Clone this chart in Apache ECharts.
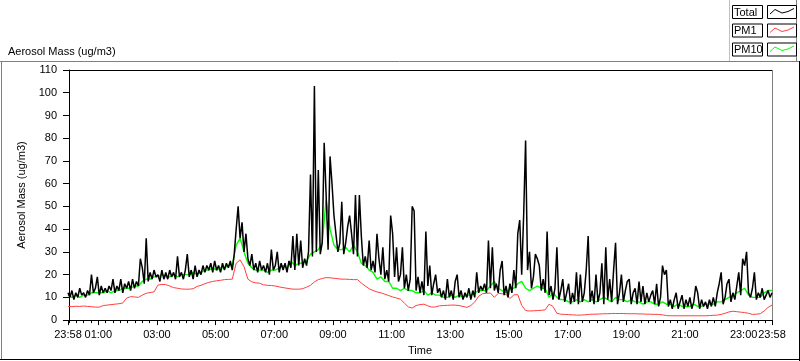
<!DOCTYPE html>
<html><head><meta charset="utf-8">
<script src="https://cdn.jsdelivr.net/npm/echarts@6/dist/echarts.min.js"></script>
<style>html,body{margin:0;padding:0;background:#fff}#c{width:800px;height:361px}</style>
</head><body><div id="c"></div>
<script>
// ---- data ----
const startMinute = -2;          // 23:58 of previous day
const endMinute = 1438;          // 23:58
const totalStepMin = 4;          // Total sampled every 4 min
const pmStepMin = 8;             // PM1 / PM10 sampled every 8 min
const seriesNames = ['Total', 'PM1', 'PM10'];
const xTickMinutes = [-2, 60, 180, 300, 420, 540, 660, 780, 900, 1020, 1140, 1260, 1380, 1438];
const xTickLabels = ['23:58','01:00','03:00','05:00','07:00','09:00','11:00','13:00','15:00','17:00','19:00','21:00','23:00','23:58'];
const yMin = 0, yMax = 110, yStep = 10;

const totalValues = [
12,10,13,9,12,10,14,11,12,10,
13,11,20,12,14,19,11,15,12,14,
12,15,13,18,12,15,13,18,12,16,
14,17,13,18,14,17,15,27,23,16,
36,17,21,18,22,19,20,17,22,18,
21,18,22,19,21,18,28,19,21,18,
22,29,19,22,18,24,19,22,20,24,
21,24,22,25,21,26,22,24,21,25,
22,25,23,26,22,29,40,50,36,43,
30,38,27,24,29,22,25,21,26,22,
24,21,25,20,31,22,24,30,21,25,
22,25,21,26,23,37,22,38,24,35,
23,27,24,30,64,28,103,30,66,29,
34,78,55,31,72,60,46,38,30,34,
52,29,34,41,46,38,29,55,28,55,
37,24,28,23,35,22,26,21,38,27,
20,32,18,22,17,46,38,19,32,17,
20,32,14,20,13,18,50,48,13,19,
12,17,11,39,15,24,11,16,20,12,
14,10,13,9,18,10,13,9,17,20,
10,13,9,12,10,14,9,13,10,21,
12,15,13,16,12,35,14,32,13,16,
12,22,26,11,15,10,16,12,22,14,
38,44,20,46,79,22,30,14,19,29,
27,24,13,18,12,39,11,15,9,14,
32,9,13,18,8,12,16,7,12,8,
21,7,20,8,12,22,37,8,13,7,
20,8,12,25,7,32,9,18,8,22,
34,7,12,20,8,13,17,18,7,12,
14,7,17,8,15,7,12,8,11,13,
7,16,6,10,24,20,22,6,9,5,
9,12,5,8,11,5,9,6,10,5,
8,15,12,5,9,6,8,5,9,6,
10,6,12,16,21,7,10,16,18,8,
12,9,15,21,11,27,24,30,12,10,
14,21,9,12,10,14,9,11,13,10,
12
];

const pm10Values = [
11,10,11,10,11,11,12,12,12,12,
13,12,13,13,14,14,14,15,15,17,
18,18,19,19,20,19,19,20,19,20,
20,20,21,20,21,22,22,23,22,23,
23,24,24,33,36,30,25,23,22,22,
22,21,22,22,23,24,23,26,24,25,
25,26,29,30,31,34,53,40,33,31,
31,32,30,33,30,25,24,22,21,18,
19,17,17,14,14,13,14,13,13,12,
12,13,11,12,11,11,10,10,11,10,
11,10,11,11,12,13,13,13,15,17,
14,13,12,14,14,16,17,14,13,14,
15,14,14,10,12,10,9,9,8,8,
9,8,9,8,9,8,9,10,9,8,
10,9,9,8,9,8,8,7,8,8,
7,7,8,7,7,6,7,6,6,6,
7,6,6,7,7,7,8,8,9,10,
11,12,13,14,11,10,10,10,12,13,
13
];

const pm1Values = [
6.0,5.9,6.1,6.0,6.2,6.0,5.9,5.7,5.7,6.4,
6.6,6.8,7.0,7.2,7.5,9.7,10.3,10.2,10.0,11.0,
11.8,12.1,12.4,15.4,15.7,15.6,15.0,14.3,14.0,13.7,
13.6,13.6,13.8,14.8,15.3,16.0,16.6,17.0,17.3,17.5,
17.8,17.9,18.0,25.0,26.5,23.5,18.0,16.8,16.4,16.2,
15.5,15.3,15.2,15.0,14.6,14.3,14.0,13.7,13.6,13.6,
13.8,14.5,15.3,16.8,17.8,18.3,18.7,18.6,18.4,18.2,
18.0,18.0,17.9,17.8,17.8,16.3,15.0,13.8,13.0,12.4,
12.0,11.4,10.8,10.2,9.7,9.2,7.5,5.8,5.3,6.4,
6.8,7.0,6.3,5.7,5.8,6.3,6.4,6.5,6.6,6.6,
6.4,6.0,5.6,6.4,8.0,10.5,11.6,11.8,11.9,10.0,
11.8,11.6,11.2,9.5,11.1,11.2,6.5,4.2,4.0,4.1,
4.2,4.3,4.5,7.0,6.0,3.0,2.6,2.5,2.4,2.3,
2.2,2.2,2.3,2.5,2.6,2.6,2.7,2.8,2.8,2.9,
2.9,2.9,2.9,2.8,2.8,2.8,2.7,2.7,2.6,2.6,
2.5,2.5,2.3,2.0,1.9,1.9,1.9,1.9,1.9,1.9,
1.9,1.9,1.9,1.9,2.0,2.1,2.2,2.5,3.0,3.6,
3.9,3.7,3.5,3.3,3.0,2.5,2.6,2.8,4.0,5.6,
6.6
];

// ---- build ----
const toPairs = (vals, step) => vals.map((v, i) => [startMinute + i * step, v]);
const minorTicks = [startMinute];
for (let m = 0; m < endMinute; m += 15) minorTicks.push(m);
minorTicks.push(endMinute);

const FONT = 'Liberation Sans';
const txt = { color: '#000', fontFamily: FONT, fontSize: 11 };

const legendColors = ['#000000', '#ff3f3f', '#00ff00'];
const legendTops = [5, 23.5, 42.5];
const legendGraphics = [];
seriesNames.forEach((name, k) => {
  const t = legendTops[k];
  legendGraphics.push(
    { type: 'rect', shape: { x: 732.5, y: t + 0.5, width: 30, height: 13 }, style: { fill: '#fff', stroke: '#000', lineWidth: 1 } },
    { type: 'text', x: 734, y: t + 7.5, style: { text: name, fill: '#000', font: '11px ' + FONT, textVerticalAlign: 'middle', verticalAlign: 'middle' } },
    { type: 'rect', shape: { x: 767.5, y: t + 0.5, width: 29, height: 13 }, style: { fill: '#fff', stroke: '#000', lineWidth: 1 } },
    { type: 'polyline', shape: { points: [[770, t + 9], [775, t + 4.5], [782, t + 8], [788, t + 6.5], [794, t + 3.5]] }, style: { stroke: legendColors[k], lineWidth: 1, fill: null } }
  );
});

const frame = [
  { type: 'line', shape: { x1: 0, y1: 61.5, x2: 799, y2: 61.5 }, style: { stroke: '#808080', lineWidth: 1 } },
  { type: 'line', shape: { x1: 1.5, y1: 61, x2: 1.5, y2: 360 }, style: { stroke: '#808080', lineWidth: 1 } },
  { type: 'line', shape: { x1: 729.5, y1: 0, x2: 729.5, y2: 61 }, style: { stroke: '#c0c0c0', lineWidth: 1 } },
  { type: 'line', shape: { x1: 796.5, y1: 0, x2: 796.5, y2: 61 }, style: { stroke: '#808080', lineWidth: 1 } },
  { type: 'line', shape: { x1: 799.5, y1: 61, x2: 799.5, y2: 361 }, style: { stroke: '#000', lineWidth: 1 } },
  { type: 'line', shape: { x1: 0, y1: 359.5, x2: 800, y2: 359.5 }, style: { stroke: '#000', lineWidth: 1 } },
  { type: 'line', shape: { x1: 68, y1: 70.5, x2: 772, y2: 70.5 }, style: { stroke: '#000', lineWidth: 1 } },
  { type: 'line', shape: { x1: 772.5, y1: 70, x2: 772.5, y2: 322 }, style: { stroke: '#808080', lineWidth: 1 } }
];

const chart = echarts.init(document.getElementById('c'), null, { renderer: 'canvas' });
chart.setOption({
  animation: false,
  backgroundColor: '#fff',
  textStyle: { fontFamily: FONT },
  title: { text: 'Aerosol Mass (ug/m3)', left: 3, top: 41, textStyle: Object.assign({ fontWeight: 'normal' }, txt) },
  grid: { left: 68, top: 70, width: 704, height: 251 },
  xAxis: [
    {
      type: 'value', min: startMinute, max: endMinute,
      name: 'Time', nameLocation: 'middle', nameGap: 24, nameTextStyle: txt,
      axisLine: { show: true, lineStyle: { color: '#000', width: 1 } },
      axisTick: { show: true, length: 5, customValues: xTickMinutes, lineStyle: { color: '#000' } },
      axisLabel: { customValues: xTickMinutes, margin: 9, color: '#000', fontFamily: FONT, fontSize: 11,
        formatter: v => { const k = xTickMinutes.indexOf(v); return k >= 0 ? xTickLabels[k] : ''; } },
      splitLine: { show: false }
    },
    {
      type: 'value', min: startMinute, max: endMinute, position: 'bottom',
      axisLine: { show: false }, axisLabel: { show: false },
      axisTick: { show: true, length: 3, customValues: minorTicks, lineStyle: { color: '#000' } },
      splitLine: { show: false }
    }
  ],
  yAxis: {
    type: 'value', min: yMin, max: yMax, interval: yStep,
    name: 'Aerosol Mass (ug/m3)', nameLocation: 'middle', nameGap: 30, nameRotate: 90, nameTextStyle: txt,
    axisLine: { show: true, lineStyle: { color: '#000', width: 1 } },
    axisTick: { show: true, length: 6, lineStyle: { color: '#000' } },
    axisLabel: { margin: 11, color: '#000', fontFamily: FONT, fontSize: 11 },
    splitLine: { show: false }
  },
  series: [
    { name: seriesNames[2], type: 'line', xAxisIndex: 0, data: toPairs(pm10Values, pmStepMin), symbol: 'none', lineStyle: { color: '#00ff00', width: 1.4 }, z: 2 },
    { name: seriesNames[1], type: 'line', xAxisIndex: 0, data: toPairs(pm1Values, pmStepMin), symbol: 'none', lineStyle: { color: '#ff3f3f', width: 1 }, z: 3 },
    { name: seriesNames[0], type: 'line', xAxisIndex: 0, data: toPairs(totalValues, totalStepMin), symbol: 'none', lineStyle: { color: '#000000', width: 1.5 }, z: 4 }
  ],
  graphic: frame.concat(legendGraphics)
});
</script></body></html>
